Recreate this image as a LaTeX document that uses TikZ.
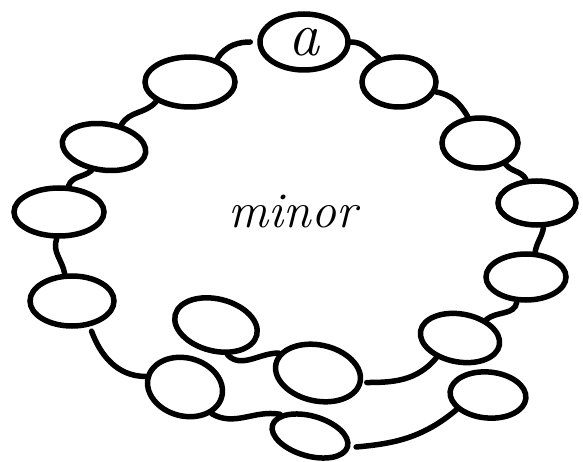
\documentclass[tikz,border=0pt]{standalone}
\usepackage{tikz}
\usetikzlibrary{shapes.geometric}

\begin{document}
\begin{tikzpicture}[
    x=1pt, y=-1pt,
    bead/.style = {draw=black, ellipse, line width=5.5pt, inner sep=0pt,
                   minimum width=84pt, minimum height=52pt},
    lnk/.style  = {draw=black, line width=5.5pt, line cap=round},
]
\useasboundingbox (0,0) rectangle (583,462);

%============================ TOP ===================================
\node[bead, minimum width=88pt, minimum height=56pt,
      font=\fontsize{62}{62}\itshape] (a) at (304,42) {a};
\node[bead, minimum width=90pt, minimum height=50pt] (l1) at (190,82) {};
\node[bead, minimum width=74pt, minimum height=50pt] (r1) at (399,82) {};

%============================ RIGHT SIDE ============================
\node[bead, minimum width=76pt, minimum height=50pt] (r2) at (480,143) {};
\node[bead, minimum width=78pt, minimum height=44pt] (r3) at (537,203) {};
\node[bead, minimum width=80pt, minimum height=46pt] (r4) at (526,277) {};
\node[bead, minimum width=80pt, minimum height=48pt, rotate=-10] (r5) at (460,338) {};

%============================ LEFT SIDE =============================
\node[bead, minimum width=84pt, minimum height=46pt, rotate=-8] (l2) at (104,147) {};
\node[bead, minimum width=90pt, minimum height=48pt] (l3) at (59,212) {};
\node[bead, minimum width=84pt, minimum height=50pt] (l4) at (72,301) {};

%============================ INNER TURN ============================
\node[bead, minimum width=86pt, minimum height=56pt, rotate=-12] (m1) at (318,373) {};
\node[bead, minimum width=84pt, minimum height=52pt, rotate=-14] (m2) at (216,325) {};

%============================ OUTER TURN ============================
\node[bead, minimum width=76pt, minimum height=58pt, rotate=-15] (b1) at (185,387) {};
\node[bead, minimum width=78pt, minimum height=40pt, rotate=-16] (b2) at (310,436) {};
\node[bead, minimum width=76pt, minimum height=46pt, rotate=-5] (b3) at (488,395) {};

\node[font=\fontsize{50}{50}\itshape] (lbl) at (293,212) {minor};

%============================ STRING ================================
\draw[lnk, shorten >=7pt] (l1.40) to[out=60,in=180] (a.west);
\draw[lnk] (a.east) to[out=0,in=140] (r1.130);
\draw[lnk] (r1.-15) to[out=-10,in=120] (r2.115);
\draw[lnk] (r2.-40) to[out=-50,in=120] (r3.115);
\draw[lnk] (r3.-75) to[out=-100,in=80] (r4.70);
\draw[lnk] (r4.-110) to[out=-100,in=40] (r5.45);
\draw[lnk, shorten >=4pt] (r5.-130) to[out=-130,in=0] (m1.east);
\draw[lnk] (m1.165) to[out=180,in=-45] (m2.-55);

\draw[lnk] (l1.-150) to[out=-130,in=60] (l2.60);
\draw[lnk] (l2.-110) to[out=-140,in=70] (l3.70);
\draw[lnk] (l3.-95) to[out=-110,in=100] (l4.105);
\draw[lnk, shorten <=5pt] (l4.-55) to[out=-70,in=180] (b1.west);
\draw[lnk] (b1.-30) to[out=-30,in=170] (b2.160);
\draw[lnk, shorten <=6pt] (b2.east) to[out=5,in=-140] (b3.-150);

\end{tikzpicture}
\end{document}
